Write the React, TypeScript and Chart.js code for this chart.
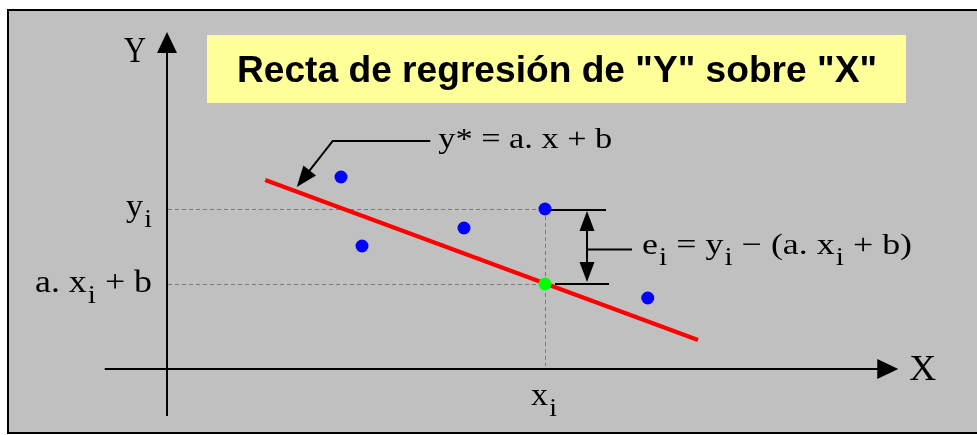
import React, { useEffect, useRef } from "react";
import { Chart, registerables } from "chart.js";

Chart.register(...registerables);

// ---- data (abstract units) ----
const pointX = [2.32, 2.6, 3.96, 5.04, 6.41];
const pointY = [3.84, 2.46, 2.82, 3.2, 1.42];
const lineX = [1.31, 7.08];
const lineY = [3.78, 0.58];
const fittedX = [5.04];
const fittedY = [1.7];
const xRange = [0, 10];
const yRange = [0, 6];
const xAxisExtent = [-0.83, 9.75];
const yAxisExtent = [-0.94, 6.74];
const pointerTip = [1.73, 3.64];
const pointerElbow = [2.21, 4.56];
const pointerEnd = [3.51, 4.56];

const titleText = 'Recta de regresión de "Y" sobre "X"';
const axisLabelX = "X";
const axisLabelY = "Y";
type Seg = { t: string; sub?: boolean };
const eqLine: Seg[] = [{ t: "y* = a. x + b" }];
const eqError: Seg[] = [
  { t: "e" }, { t: "i", sub: true }, { t: " = y" }, { t: "i", sub: true },
  { t: " − (a. x" }, { t: "i", sub: true }, { t: " + b)" },
];
const lblYi: Seg[] = [{ t: "y" }, { t: "i", sub: true }];
const lblFit: Seg[] = [{ t: "a. x" }, { t: "i", sub: true }, { t: " + b" }];
const lblXi: Seg[] = [{ t: "x" }, { t: "i", sub: true }];

const SERIF = '"Liberation Serif", "DejaVu Serif", serif';

function drawRich(
  ctx: CanvasRenderingContext2D,
  segs: Seg[],
  x: number,
  y: number,
  size: number,
  align: "left" | "right",
  targetWidth?: number
) {
  const subSize = size * 0.82;
  let total = 0;
  const widths: number[] = [];
  for (const s of segs) {
    ctx.font = `${s.sub ? subSize : size}px ${SERIF}`;
    const w = ctx.measureText(s.t).width;
    widths.push(w);
    total += w + (s.sub ? 1 : 0);
  }
  const sc = targetWidth ? targetWidth / total : 1;
  const start = align === "right" ? x - total * sc : x;
  ctx.save();
  ctx.translate(start, y);
  ctx.scale(sc, 1);
  ctx.fillStyle = "#000";
  ctx.textBaseline = "alphabetic";
  ctx.textAlign = "left";
  let cx = 0;
  segs.forEach((s, i) => {
    ctx.font = `${s.sub ? subSize : size}px ${SERIF}`;
    ctx.fillText(s.t, cx + (s.sub ? 1 : 0), s.sub ? size * 0.37 : 0);
    cx += widths[i] + (s.sub ? 1 : 0);
  });
  ctx.restore();
}

function arrowHead(
  ctx: CanvasRenderingContext2D,
  tx: number,
  ty: number,
  fx: number,
  fy: number,
  len: number,
  half: number
) {
  const a = Math.atan2(ty - fy, tx - fx);
  const bx = tx - Math.cos(a) * len;
  const by = ty - Math.sin(a) * len;
  ctx.beginPath();
  ctx.moveTo(tx, ty);
  ctx.lineTo(bx + Math.sin(a) * half, by - Math.cos(a) * half);
  ctx.lineTo(bx - Math.sin(a) * half, by + Math.cos(a) * half);
  ctx.closePath();
  ctx.fill();
}

const diagramPlugin = {
  id: "diagram",
  beforeDatasetsDraw(chart: any) {
    const ctx: CanvasRenderingContext2D = chart.ctx;
    const xs = chart.scales.x;
    const ys = chart.scales.y;
    const px = (v: number) => xs.getPixelForValue(v);
    const py = (v: number) => ys.getPixelForValue(v);
    ctx.save();
    // background
    ctx.fillStyle = "#ffffff";
    ctx.fillRect(0, 0, chart.width, chart.height);
    ctx.fillStyle = "#c0c0c0";
    ctx.fillRect(8, 10, 1000, 423);
    ctx.strokeStyle = "#000";
    ctx.lineWidth = 2;
    ctx.strokeRect(8, 10, 1000, 423);

    // title box
    ctx.fillStyle = "#ffff99";
    ctx.fillRect(207, 35, 699, 68);
    ctx.font = 'bold 37px "Liberation Sans", Arial, sans-serif';
    const tw = ctx.measureText(titleText).width;
    ctx.save();
    ctx.translate(237, 82);
    ctx.scale(640 / tw, 1);
    ctx.fillStyle = "#000";
    ctx.textBaseline = "alphabetic";
    ctx.fillText(titleText, 0, 0);
    ctx.restore();

    // axes
    ctx.strokeStyle = "#000";
    ctx.fillStyle = "#000";
    ctx.lineWidth = 2;
    const ox = px(0);
    const oy = py(0);
    const xEnd = px(xAxisExtent[1]);
    const yEnd = py(yAxisExtent[1]);
    ctx.beginPath();
    ctx.moveTo(px(xAxisExtent[0]), oy);
    ctx.lineTo(xEnd - 18, oy);
    ctx.moveTo(ox, py(yAxisExtent[0]));
    ctx.lineTo(ox, yEnd + 18);
    ctx.stroke();
    arrowHead(ctx, xEnd, oy, xEnd - 10, oy, 21, 10);
    arrowHead(ctx, ox, yEnd, ox, yEnd + 10, 21, 10);

    // axis labels
    ctx.font = `36px ${SERIF}`;
    ctx.textBaseline = "alphabetic";
    ctx.save();
    let w = ctx.measureText(axisLabelX).width;
    ctx.translate(xEnd + 11, oy + 11);
    ctx.scale(27 / w, 1);
    ctx.fillText(axisLabelX, 0, 0);
    ctx.restore();
    ctx.save();
    w = ctx.measureText(axisLabelY).width;
    ctx.translate(ox - 43, yEnd + 30);
    ctx.scale(22 / w, 1);
    ctx.fillText(axisLabelY, 0, 0);
    ctx.restore();

    // dashed guides
    const xi = px(fittedX[0]);
    const yi = py(pointY[3]);
    const yh = py(fittedY[0]);
    ctx.strokeStyle = "#7a7a7a";
    ctx.lineWidth = 1;
    ctx.setLineDash([4, 3]);
    ctx.beginPath();
    ctx.moveTo(ox + 1, Math.round(yi) + 0.5);
    ctx.lineTo(xi, Math.round(yi) + 0.5);
    ctx.moveTo(ox + 1, Math.round(yh) + 0.5);
    ctx.lineTo(xi, Math.round(yh) + 0.5);
    ctx.moveTo(Math.round(xi) + 0.5, yi);
    ctx.lineTo(Math.round(xi) + 0.5, oy - 3);
    ctx.stroke();
    ctx.setLineDash([]);

    // bracket lines
    ctx.strokeStyle = "#000";
    ctx.lineWidth = 2;
    ctx.beginPath();
    ctx.moveTo(xi, yi + 1);
    ctx.lineTo(xi + 61, yi + 1);
    ctx.moveTo(xi + 10, yh);
    ctx.lineTo(xi + 64, yh);
    ctx.stroke();
    ctx.restore();
  },
  afterDatasetsDraw(chart: any) {
    const ctx: CanvasRenderingContext2D = chart.ctx;
    const xs = chart.scales.x;
    const ys = chart.scales.y;
    const px = (v: number) => xs.getPixelForValue(v);
    const py = (v: number) => ys.getPixelForValue(v);
    ctx.save();
    ctx.strokeStyle = "#000";
    ctx.fillStyle = "#000";
    ctx.lineWidth = 2;

    // residual double arrow
    const xi = px(fittedX[0]);
    const yi = py(pointY[3]);
    const yh = py(fittedY[0]);
    const ax = xi + 42;
    const top = yi + 2;
    const bot = yh - 2;
    ctx.beginPath();
    ctx.moveTo(ax, top + 15);
    ctx.lineTo(ax, bot - 15);
    const mid = (top + bot) / 2 + 3;
    ctx.moveTo(ax, mid);
    ctx.lineTo(ax + 45, mid);
    ctx.stroke();
    arrowHead(ctx, ax, top, ax, top + 10, 20, 7.5);
    arrowHead(ctx, ax, bot, ax, bot - 10, 20, 7.5);
    drawRich(ctx, eqError, ax + 55, mid + 4, 30, "left", 270);

    // pointer to the regression line
    const tX = px(pointerTip[0]);
    const tY = py(pointerTip[1]);
    const eX = px(pointerElbow[0]);
    const eY = py(pointerElbow[1]);
    const nX = px(pointerEnd[0]);
    ctx.lineWidth = 2;
    ctx.beginPath();
    ctx.moveTo(nX, eY);
    ctx.lineTo(eX, eY);
    const ang = Math.atan2(tY - eY, tX - eX);
    ctx.lineTo(tX - Math.cos(ang) * 14, tY - Math.sin(ang) * 14);
    ctx.stroke();
    arrowHead(ctx, tX, tY, eX, eY, 21, 8);
    drawRich(ctx, eqLine, nX + 8, eY + 7, 30, "left", 174);

    // axis value labels
    const ox = px(0);
    const oy = py(0);
    drawRich(ctx, lblYi, ox - 15, yi + 7, 31, "right", 26);
    drawRich(ctx, lblFit, ox - 15, yh + 8, 31, "right", 117);
    drawRich(ctx, lblXi, xi - 14, oy + 36, 31, "left", 26);
    ctx.restore();
  },
};

export default function App() {
  const ref = useRef<HTMLCanvasElement | null>(null);
  useEffect(() => {
    document.body.style.margin = "0";
    const toPts = (xs: number[], ys: number[]) => xs.map((x, i) => ({ x, y: ys[i] }));
    const chart = new Chart(ref.current as HTMLCanvasElement, {
      type: "scatter",
      data: {
        datasets: [
          {
            label: "ajuste",
            data: toPts(fittedX, fittedY),
            backgroundColor: "#00ff00",
            borderWidth: 0,
            pointRadius: 6.5,
            order: 0,
          },
          {
            label: "recta",
            data: toPts(lineX, lineY),
            showLine: true,
            borderColor: "#ff0000",
            borderWidth: 4,
            pointRadius: 0,
            order: 1,
          },
          {
            label: "datos",
            data: toPts(pointX, pointY),
            backgroundColor: "#0000ff",
            borderWidth: 0,
            pointRadius: 6.5,
            order: 2,
          },
        ] as any,
      },
      options: {
        animation: false,
        responsive: false,
        layout: { padding: { left: 167, right: 60, top: 69, bottom: 66 } },
        scales: {
          x: { type: "linear", min: xRange[0], max: xRange[1], display: false },
          y: { type: "linear", min: yRange[0], max: yRange[1], display: false },
        },
        plugins: { legend: { display: false }, tooltip: { enabled: false } },
        elements: { line: { borderCapStyle: "butt" } },
      } as any,
      plugins: [diagramPlugin],
    });
    return () => chart.destroy();
  }, []);
  return (
    <div style={{ position: "fixed", left: 0, top: 0, width: 977, height: 435, background: "#fff" }}>
      <canvas ref={ref} width={977} height={435} style={{ display: "block" }} />
    </div>
  );
}
